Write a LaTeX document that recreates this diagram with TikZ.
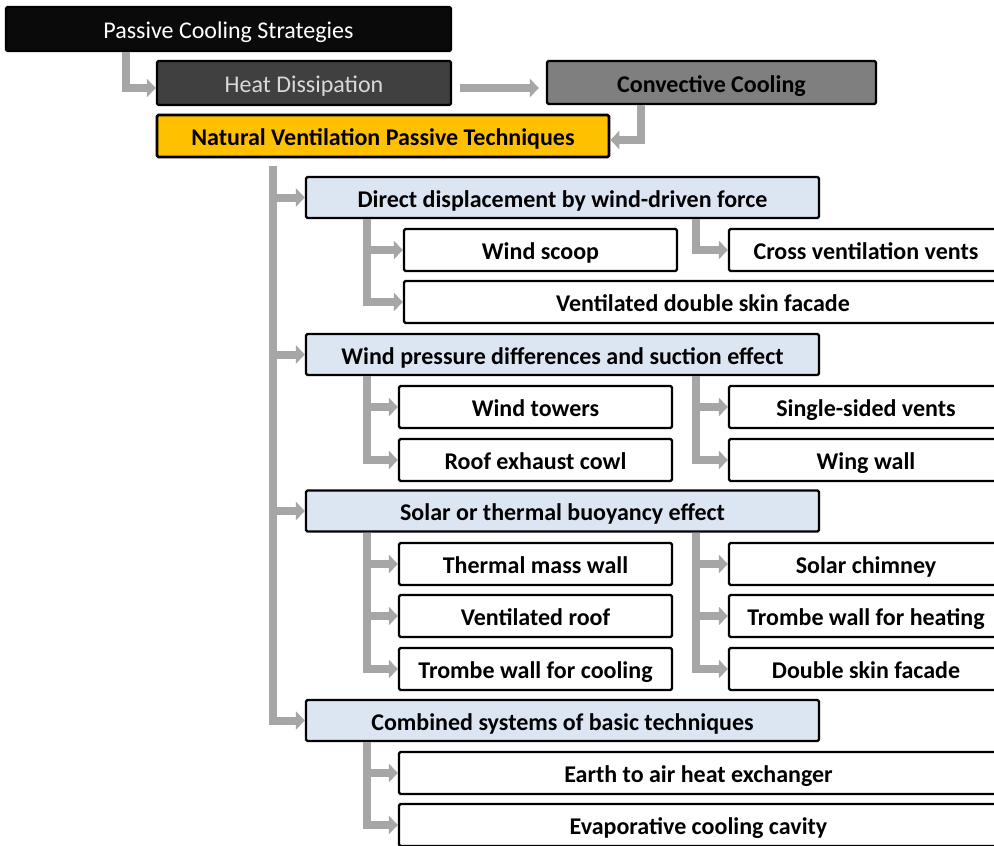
\documentclass[tikz,border=0pt]{standalone}
\usepackage{fontspec}
\setmainfont{Carlito}
\usetikzlibrary{arrows.meta}
\definecolor{arrowgray}{HTML}{A6A6A6}
\definecolor{lvltwo}{HTML}{DCE6F2}
\definecolor{gold}{HTML}{FFC000}
\definecolor{darkbox}{HTML}{404040}
\definecolor{midbox}{HTML}{7F7F7F}
\definecolor{lighttext}{HTML}{D9D9D9}
\begin{document}
\begin{tikzpicture}[x=1pt,y=-1pt,
  every node/.style={font=\fontsize{24}{28}\selectfont, inner sep=0pt, text height=22pt, text depth=3pt},
  basebox/.style={draw=black, line width=2.3pt, rectangle, rounded corners=1.5pt, anchor=center},
  topbox/.style={basebox, fill=black!96, text=white, minimum height=44pt},
  heatbox/.style={basebox, fill=darkbox, text=lighttext, minimum height=44pt},
  convbox/.style={basebox, fill=midbox, text=black, font=\fontsize{24}{28}\selectfont\bfseries, minimum height=43pt},
  natbox/.style={basebox, fill=gold, text=black, font=\fontsize{24}{28}\selectfont\bfseries, minimum height=42pt, line width=2.8pt},
  twobox/.style={basebox, fill=lvltwo, font=\fontsize{24}{28}\selectfont\bfseries, minimum width=513pt, minimum height=41pt},
  leaf/.style={basebox, fill=white, font=\fontsize{24}{28}\selectfont\bfseries, minimum height=42pt},
  conn/.style={draw=arrowgray, line width=8pt, -{Triangle[length=9pt,width=18pt]}}
]
\useasboundingbox (0,0) rectangle (994,846);
\fill[white] (0,0) rectangle (994,846);

% top level
\node[topbox, minimum width=445pt] (ps) at (228.5,29) {Passive Cooling Strategies};
\node[heatbox, minimum width=294pt] (hd) at (304,83) {Heat Dissipation};
\node[convbox, minimum width=329pt] (cc) at (711.5,82.5) {Convective Cooling};
\node[natbox, minimum width=452pt] (nv) at (383,136) {Natural Ventilation Passive Techniques};

% level two
\node[twobox] (d1) at (562.5,197.5) {Direct displacement by wind-driven force};
\node[twobox] (d2) at (562.5,354.5) {Wind pressure differences and suction effect};
\node[twobox] (d3) at (562.5,511) {Solar or thermal buoyancy effect};
\node[twobox] (d4) at (562.5,720.5) {Combined systems of basic techniques};

% group 1
\node[leaf, minimum width=273pt] (a1) at (540.5,250) {Wind scoop};
\node[leaf, minimum width=274pt] (a2) at (866,250) {Cross ventilation vents};
\node[leaf, minimum width=598pt] (a3) at (703,302) {Ventilated double skin facade};

% group 2
\node[leaf, minimum width=273pt] (b1) at (535.5,407) {Wind towers};
\node[leaf, minimum width=273pt] (b2) at (535.5,460) {Roof exhaust cowl};
\node[leaf, minimum width=274pt] (b3) at (866,407) {Single-sided vents};
\node[leaf, minimum width=274pt] (b4) at (866,460) {Wing wall};

% group 3
\node[leaf, minimum width=273pt] (c1) at (535.5,564) {Thermal mass wall};
\node[leaf, minimum width=273pt] (c2) at (535.5,616) {Ventilated roof};
\node[leaf, minimum width=273pt] (c3) at (535.5,669) {Trombe wall for cooling};
\node[leaf, minimum width=274pt] (c4) at (866,564) {Solar chimney};
\node[leaf, minimum width=274pt] (c5) at (866,616) {Trombe wall for heating};
\node[leaf, minimum width=274pt] (c6) at (866,669) {Double skin facade};

% group 4
\node[leaf, minimum width=599pt] (e1) at (698.5,773) {Earth to air heat exchanger};
\node[leaf, minimum width=599pt] (e2) at (698.5,825) {Evaporative cooling cavity};

% top connectors
\draw[conn] ([xshift=121pt]ps.south west) |- ([yshift=-5pt]hd.west);
\draw[conn] ([xshift=8pt,yshift=-5pt]hd.east) -- ([xshift=-7pt,yshift=-5.5pt]cc.west);
\draw[conn] ([xshift=-70.5pt]cc.south) |- ([yshift=-4pt]nv.east);

% main trunk
\coordinate (t0) at ([xshift=117pt,yshift=-8pt]nv.south west);
\draw[conn] (t0) |- (d4.west);
\draw[conn] (t0) |- (d3.west);
\draw[conn] (t0) |- (d2.west);
\draw[conn] (t0) |- (d1.west);

% sub trunks
\draw[conn] ([xshift=62pt]d1.south west) |- (a3.west);
\draw[conn] ([xshift=62pt]d1.south west) |- (a1.west);
\draw[conn] ([xshift=391pt]d1.south west) |- (a2.west);

\draw[conn] ([xshift=62pt]d2.south west) |- (b2.west);
\draw[conn] ([xshift=62pt]d2.south west) |- (b1.west);
\draw[conn] ([xshift=391pt]d2.south west) |- (b4.west);
\draw[conn] ([xshift=391pt]d2.south west) |- (b3.west);

\draw[conn] ([xshift=62pt]d3.south west) |- (c3.west);
\draw[conn] ([xshift=62pt]d3.south west) |- (c2.west);
\draw[conn] ([xshift=62pt]d3.south west) |- (c1.west);
\draw[conn] ([xshift=391pt]d3.south west) |- (c6.west);
\draw[conn] ([xshift=391pt]d3.south west) |- (c5.west);
\draw[conn] ([xshift=391pt]d3.south west) |- (c4.west);

\draw[conn] ([xshift=62pt]d4.south west) |- (e2.west);
\draw[conn] ([xshift=62pt]d4.south west) |- (e1.west);
\end{tikzpicture}
\end{document}
